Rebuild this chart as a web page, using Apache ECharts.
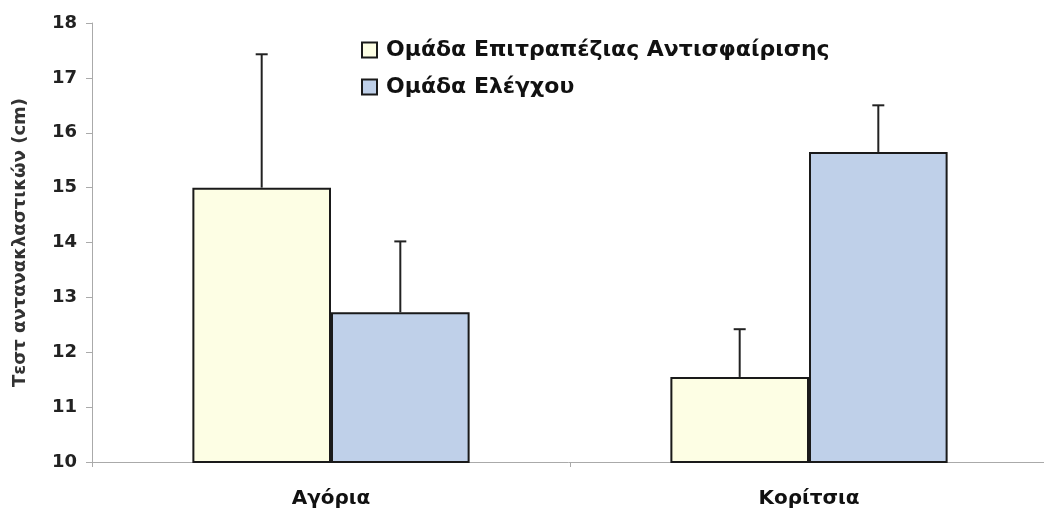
<!DOCTYPE html>
<html><head><meta charset="utf-8">
<script src="https://cdn.jsdelivr.net/npm/echarts@6/dist/echarts.min.js"></script>
<style>html,body{margin:0;padding:0;background:#fff}#c{width:1044px;height:509px}</style>
</head><body><div id="c"></div>
<script>
var categories = ['Αγόρια', 'Κορίτσια'];
var seriesNames = ['Ομάδα Επιτραπέζιας Αντισφαίρισης', 'Ομάδα Ελέγχου'];
var tableTennis = [15.0, 11.55];
var tableTennisErrTop = [17.43, 12.42];
var control = [12.73, 15.65];
var controlErrTop = [14.02, 16.5];
var yTicks = [10, 11, 12, 13, 14, 15, 16, 17, 18];

var colors = ['#FDFEE4', '#BFD0E9'];
var barCatGap = 0.42;
var FONT = 'DejaVu Sans, Verdana, sans-serif';

function errSeries(vals, tops, sign) {
  return {
    type: 'custom',
    z: 1,
    silent: true,
    data: vals.map(function (v, i) { return [i, v, tops[i]]; }),
    renderItem: function (params, api) {
      var band = api.size([1, 0])[0];
      var off = sign * band * (1 - barCatGap) / 4;
      var p0 = api.coord([api.value(0), api.value(1)]);
      var p1 = api.coord([api.value(0), api.value(2)]);
      var x = p0[0] + off;
      var s = { stroke: '#222', lineWidth: 2 };
      return {
        type: 'group',
        children: [
          { type: 'line', shape: { x1: x, y1: p0[1], x2: x, y2: p1[1] }, style: s },
          { type: 'line', shape: { x1: x - 6, y1: p1[1], x2: x + 6, y2: p1[1] }, style: s }
        ]
      };
    }
  };
}

var chart = echarts.init(document.getElementById('c'), null, { renderer: 'canvas' });
chart.setOption({
  animation: false,
  textStyle: { fontFamily: FONT },
  legend: {
    data: seriesNames,
    orient: 'vertical',
    left: 356,
    top: 33,
    itemGap: 13,
    itemWidth: 15,
    itemHeight: 15,
    icon: 'rect',
    textStyle: { fontFamily: FONT, fontSize: 22, lineHeight: 24, fontWeight: 'bold', color: '#111', padding: [0, 0, 0, 4] }
  },
  grid: { left: 92, right: -4, top: 23, bottom: 47, outerBoundsMode: 'none', containLabel: false },
  xAxis: {
    type: 'category',
    data: categories,
    axisLine: { lineStyle: { color: '#aaa', width: 1 } },
    axisTick: { show: true, alignWithLabel: false, length: 5, lineStyle: { color: '#aaa' } },
    axisLabel: { fontFamily: FONT, fontSize: 20, fontWeight: 'bold', color: '#111', margin: 27 }
  },
  yAxis: {
    type: 'value',
    min: 10,
    max: 18,
    interval: 1,
    name: 'Τεστ ανταναkλαστικών (cm)'.replace('k', 'κ'),
    nameLocation: 'middle',
    nameGap: 63,
    nameTextStyle: { fontFamily: FONT, fontSize: 18, fontWeight: 'bold', color: '#333' },
    axisLine: { show: true, lineStyle: { color: '#aaa', width: 1 } },
    axisTick: { show: true, length: 6, lineStyle: { color: '#aaa' } },
    splitLine: { show: false },
    axisLabel: { fontFamily: FONT, fontSize: 18, fontWeight: 'bold', color: '#222', margin: 15,
      formatter: function (v) { return yTicks.indexOf(v) >= 0 ? String(v) : ''; } }
  },
  series: [
    { name: seriesNames[0], type: 'bar', data: tableTennis, barGap: '0%', barCategoryGap: (barCatGap * 100) + '%',
      itemStyle: { color: colors[0], borderColor: '#1a1a1a', borderWidth: 2 }, z: 2 },
    { name: seriesNames[1], type: 'bar', data: control, barGap: '0%', barCategoryGap: (barCatGap * 100) + '%',
      itemStyle: { color: colors[1], borderColor: '#1a1a1a', borderWidth: 2 }, z: 2 },
    errSeries(tableTennis, tableTennisErrTop, -1),
    errSeries(control, controlErrTop, 1)
  ]
});
</script>
</body></html>
